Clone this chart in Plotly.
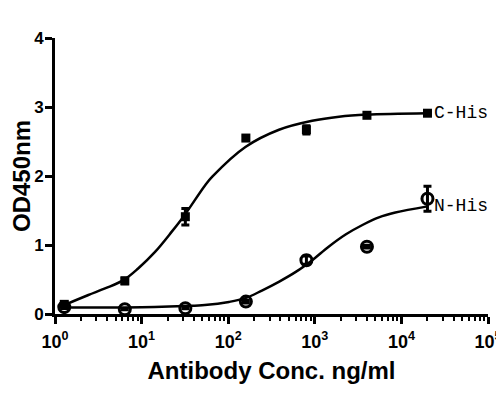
import plotly.graph_objects as go

# measured points (5-fold dilution series)
conc = [1.28, 6.4, 32, 160, 800, 4000, 20000]
od_chis = [0.14, 0.48, 1.41, 2.55, 2.67, 2.88, 2.91]
err_chis = [0.03, 0.04, 0.12, 0.03, 0.06, 0.02, 0.02]
od_nhis = [0.10, 0.07, 0.085, 0.18, 0.78, 0.975, 1.67]
err_nhis = [0.02, 0.01, 0.01, 0.02, 0.06, 0.02, 0.18]

# fitted curves
curve_conc_c = [1.28, 2.43, 3.78, 6.17, 9.12, 14.3, 22.2, 31.6, 53.7, 65.5,
                158, 386, 933, 1905, 3981, 20000]
curve_chis = [0.13, 0.275, 0.37, 0.49, 0.66, 0.90, 1.19, 1.44, 1.86, 1.99,
              2.42, 2.67, 2.80, 2.86, 2.89, 2.91]
curve_conc_n = [1.28, 3.16, 6.3, 14.1, 31.6, 53.7, 102, 158, 245, 389, 603,
                933, 1445, 2291, 3548, 5495, 8511, 20000]
curve_nhis = [0.095, 0.093, 0.094, 0.10, 0.115, 0.13, 0.175, 0.23, 0.34, 0.47, 0.61,
              0.78, 0.975, 1.155, 1.29, 1.40, 1.47, 1.56]

tick_vals = [1, 10, 100, 1000, 10000, 100000]
tick_text = ['10<sup>0</sup>', '10<sup>1</sup>', '10<sup>2</sup>',
             '10<sup>3</sup>', '10<sup>4</sup>', '10<sup>5</sup>']

fig = go.Figure()

fig.add_trace(go.Scatter(x=curve_conc_c, y=curve_chis, mode='lines', line_shape='spline',
                         line=dict(color='black', width=2.5), hoverinfo='skip'))
fig.add_trace(go.Scatter(x=curve_conc_n, y=curve_nhis, mode='lines', line_shape='spline',
                         line=dict(color='black', width=2.5), hoverinfo='skip'))

fig.add_trace(go.Scatter(x=conc, y=od_chis, mode='markers', name='C-His',
                         marker=dict(symbol='square', size=9, color='black'),
                         error_y=dict(type='data', array=err_chis, color='black',
                                      thickness=3, width=4)))
fig.add_trace(go.Scatter(x=conc, y=od_nhis, mode='markers', name='N-His',
                         marker=dict(symbol='circle-open', size=11, color='black',
                                     line=dict(width=3, color='black')),
                         error_y=dict(type='data', array=err_nhis, color='black',
                                      thickness=3, width=4)))

for name, yv in [('C-His', od_chis[-1]), ('N-His', od_nhis[-1] - 0.1)]:
    fig.add_annotation(x=4.301, y=yv, text=name, showarrow=False,
                       xanchor='left', xshift=5,
                       font=dict(family='Liberation Mono', size=18, color='black'))

# page body adds an 8px margin, so the figure is 8px smaller and margins shifted
fig.update_layout(
    width=496, height=395,
    margin=dict(l=47, r=16, t=30, b=89),
    paper_bgcolor='white', plot_bgcolor='white',
    showlegend=False,
    font=dict(family='Liberation Sans', color='black'),
)

fig.update_xaxes(
    type='log', range=[0, 5], automargin=False,
    tickvals=tick_vals, ticktext=tick_text,
    ticks='outside', ticklen=7, tickwidth=2.5, tickcolor='black',
    ticklabelstandoff=2,
    minor=dict(ticks='outside', ticklen=4, tickwidth=2, tickcolor='black',
               dtick='D1', showgrid=False),
    showline=True, linewidth=3, linecolor='black',
    showgrid=False, zeroline=False,
    tickfont=dict(size=18, family='Liberation Sans', color='black', weight='bold'),
    title=dict(text='Antibody Conc. ng/ml', standoff=12,
               font=dict(size=24, family='Liberation Sans', color='black', weight='bold')),
)
fig.update_yaxes(
    range=[0, 4], tickvals=[0, 1, 2, 3, 4], automargin=False,
    ticks='outside', ticklen=7, tickwidth=2.5, tickcolor='black',
    ticklabelstandoff=-2,
    showline=True, linewidth=3, linecolor='black',
    showgrid=False, zeroline=False,
    tickfont=dict(size=17, family='Liberation Sans', color='black', weight='bold'),
    title=dict(text='OD450nm', standoff=17,
               font=dict(size=24, family='Liberation Sans', color='black', weight='bold')),
)

fig.write_html('out.html')
